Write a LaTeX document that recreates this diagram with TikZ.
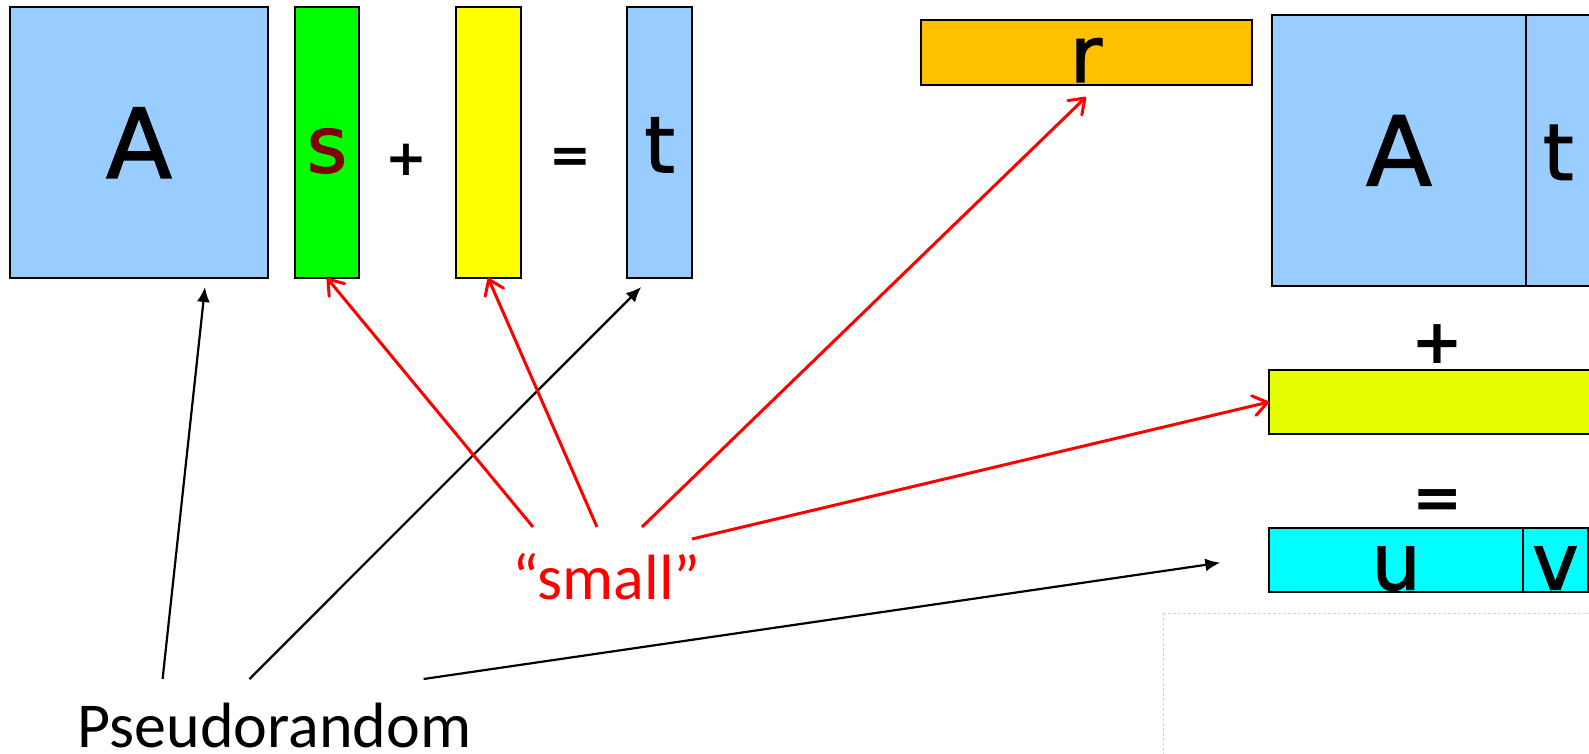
\documentclass[tikz,border=0pt]{standalone}
\usepackage{fontspec}
\setmainfont{Carlito}
\newfontfamily\letterfont[FakeBold=1.6]{DejaVu Sans}
\newfontfamily\opfont{DejaVu Sans}
\usetikzlibrary{arrows.meta}

\definecolor{matblue}{HTML}{99CCFF}
\definecolor{secgreen}{HTML}{00FF00}
\definecolor{erryellow}{HTML}{FFFF00}
\definecolor{secred}{HTML}{800000}
\definecolor{rorange}{HTML}{FFC000}
\definecolor{erryellow2}{HTML}{E6FF00}
\definecolor{ucyan}{HTML}{00FFFF}
\definecolor{framegrey}{HTML}{D4D4D4}

\begin{document}
\begin{tikzpicture}[x=1pt, y=-1pt,
  blk/.style={draw, line width=2pt, inner sep=0pt, outer sep=0pt, text height=59pt, text depth=0pt,
    font=\letterfont\fontsize{78pt}{80pt}\selectfont},
  capA/.style={text height=70pt, font=\letterfont\fontsize{96pt}{100pt}\selectfont},
  op/.style={inner sep=0pt, font=\opfont\bfseries\fontsize{50pt}{52pt}\selectfont},
  prng/.style={line width=2.2pt, -{Latex[length=15pt, width=13pt]}},
  sml/.style={red, line width=3pt, -{Straight Barb[length=14pt, width=20pt, round]}},
  lbl/.style={inner sep=0pt, anchor=base, text depth=0pt, font=\fontsize{64pt}{70pt}\selectfont}]

\useasboundingbox (0,0) rectangle (1589,754);

% ==================== LEFT: A s + e = t ====================
\node[blk, capA, fill=matblue, minimum width=258pt, minimum height=270.5pt] (A) at (139,142.75) {A};
\node[blk, fill=secgreen, text=secred, minimum width=64.8pt, minimum height=270.5pt] (s) at (327,142.75) {s};
\node[op] (plus1) at (406,160) {+};
\node[blk, fill=erryellow, minimum width=64.7pt, minimum height=270.5pt] (e) at (488.15,142.75) {};
\node[op] (eq1) at (570.5,160) {=};
\node[blk, fill=matblue, minimum width=64.8pt, minimum height=270.5pt] (t) at (659.6,142.75) {t};

% ==================== RIGHT: r (A|t) + e = (u|v) ====================
\node[blk, fill=rorange, minimum width=331pt, minimum height=65pt] (r) at (1086,52.5) {r};

\node[blk, capA, fill=matblue, minimum width=254pt, minimum height=270.7pt] (A2) at (1399,150.35) {A};
\node[blk, fill=matblue, minimum width=64.5pt, minimum height=270.7pt] (t2) at (1558.25,150.35) {t};

\node[op, font=\opfont\bfseries\fontsize{62pt}{64pt}\selectfont] (plus2) at (1437,344.5) {+};
\node[blk, fill=erryellow2, minimum width=321.5pt, minimum height=64pt] (e2) at (1429.75,402) {};

\node[op, font=\opfont\bfseries\fontsize{60pt}{62pt}\selectfont] (eq2) at (1437.5,504.5) {=};
\node[blk, fill=ucyan, minimum width=253.7pt, minimum height=64.6pt] (u) at (1396.15,560) {u};
\node[blk, fill=ucyan, minimum width=64.7pt, minimum height=64.6pt] (v) at (1555.35,560) {v};

% empty frame (bottom right)
\draw[framegrey, line width=0.8pt, dash pattern=on 3pt off 2pt] (1163,613) rectangle (1600,770);

% ==================== LABELS ====================
\node[lbl] (prand) at (274.5,747) {Pseudorandom};
\node[lbl, text=red] (small) at (606.5,599) {“small”};

% arrow starts
\coordinate (p1) at (162.6,679);
\coordinate (p2) at (249.5,679);
\coordinate (p3) at (423.6,679);
\coordinate (q1) at (533,527);
\coordinate (q2) at (597,527);
\coordinate (q3) at (642,527);
\coordinate (q4) at (692,539);

% Pseudorandom -> A, t, u|v
\draw[prng] (p1) -- ([xshift=66pt, yshift=-9pt]A.south);
\draw[prng] (p2) -- ([xshift=14pt, yshift=-9pt]t.south west);
\draw[prng] (p3) -- ([xshift=-49pt, yshift=-2.7pt]u.west);

% "small" -> s, e, r, e
\draw[sml] (q1) -- (s.south);
\draw[sml] (q2) -- (e.south);
\draw[sml] (q3) -- ([yshift=-12pt]r.south);
\draw[sml] (q4) -- (e2.west);

\end{tikzpicture}
\end{document}
